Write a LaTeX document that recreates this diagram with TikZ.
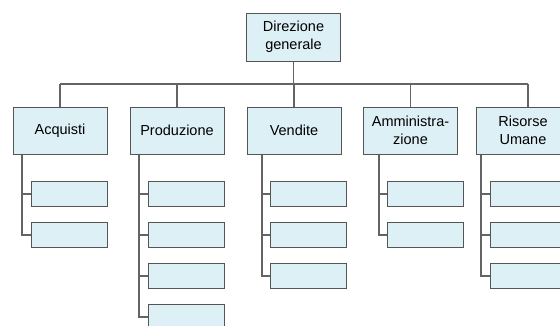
\documentclass[tikz,border=0pt]{standalone}
\usepackage{fontspec}
\setmainfont{Liberation Sans}
\definecolor{boxfill}{RGB}{221,240,245}
\definecolor{boxline}{RGB}{85,85,85}
\definecolor{conn}{RGB}{100,100,100}
\begin{document}
\begin{tikzpicture}[x=1pt,y=-1pt,
  box/.style={draw=boxline, fill=boxfill, line width=1pt, inner sep=0pt, align=center,
    minimum width=94pt, minimum height=47pt, font=\fontsize{14.5}{18}\selectfont},
  sub/.style={draw=boxline, fill=boxfill, line width=1pt, inner sep=0pt,
    minimum width=76pt, minimum height=25pt, anchor=west},
  wire/.style={draw=conn, line width=1.1pt}]
\useasboundingbox (0,0) rectangle (560,325);
\clip (0,0) rectangle (560,325);
% top
\node[box, minimum height=48pt] (dir) at (293.5,37) {Direzione\\generale};
% level 2
\node[box] (acq) at (60,130.5) {Acquisti};
\node[box] (pro) at (177,130.5) {Produzione};
\node[box] (ven) at (294,130.5) {Vendite};
\node[box] (amm) at (410.5,130.5) {Amministra-\\zione};
\node[box] (ris) at (523,130.5) {Risorse\\Umane};
% bus
\coordinate (busL) at (60,84);
\coordinate (busR) at (528,84);
\coordinate (risT) at (528,107);
\draw[wire] (busL) -- (busR);
\draw[wire] (dir.south) -- (dir.south |- busL);
\draw[wire] (acq.north) -- (acq.north |- busL);
\draw[wire] (pro.north) -- (pro.north |- busL);
\draw[wire] (ven.north) -- (ven.north |- busL);
\draw[wire] (amm.north) -- (amm.north |- busL);
\draw[wire] (risT) -- (busR);
% x positions of vertical lines
\coordinate (acqx) at (22,0);
\coordinate (prox) at (139,0);
\coordinate (venx) at (262,0);
\coordinate (ammx) at (379,0);
\coordinate (risx) at (481,0);
% sub boxes
\node[sub] (a1) at (31,194) {};
\node[sub] (a2) at (31,235) {};
\node[sub] (p1) at (148,194) {};
\node[sub] (p2) at (148,235) {};
\node[sub] (p3) at (148,276) {};
\node[sub] (p4) at (148,317) {};
\node[sub] (v1) at (270,194) {};
\node[sub] (v2) at (270,235) {};
\node[sub] (v3) at (270,276) {};
\node[sub] (m1) at (387,194) {};
\node[sub] (m2) at (387,235) {};
\node[sub] (r1) at (490,194) {};
\node[sub] (r2) at (490,235) {};
\node[sub] (r3) at (490,276) {};
% connectors
\draw[wire] (acq.south -| acqx) |- (a2.west);
\draw[wire] (a1.west) -- (a1.west -| acqx);
\draw[wire] (pro.south -| prox) |- (p4.west);
\draw[wire] (p1.west) -- (p1.west -| prox);
\draw[wire] (p2.west) -- (p2.west -| prox);
\draw[wire] (p3.west) -- (p3.west -| prox);
\draw[wire] (ven.south -| venx) |- (v3.west);
\draw[wire] (v1.west) -- (v1.west -| venx);
\draw[wire] (v2.west) -- (v2.west -| venx);
\draw[wire] (amm.south -| ammx) |- (m2.west);
\draw[wire] (m1.west) -- (m1.west -| ammx);
\draw[wire] (ris.south -| risx) |- (r3.west);
\draw[wire] (r1.west) -- (r1.west -| risx);
\draw[wire] (r2.west) -- (r2.west -| risx);
\end{tikzpicture}
\end{document}
